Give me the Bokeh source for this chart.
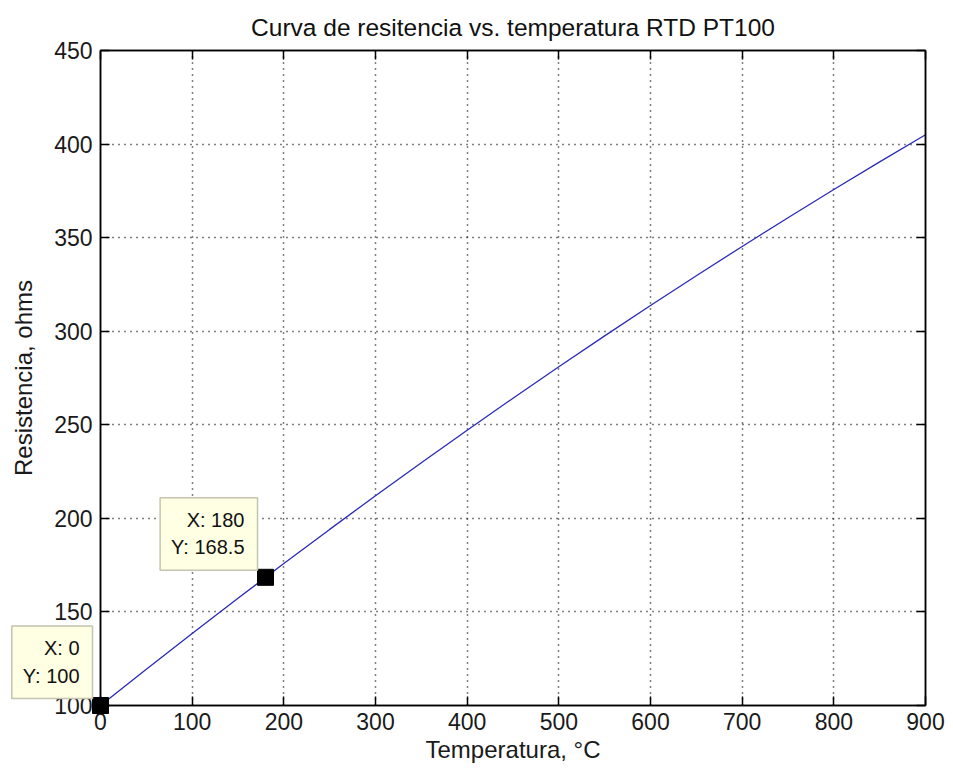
from bokeh.plotting import figure
from bokeh.models import Range1d, LinearAxis, FixedTicker
from bokeh.core.properties import value
from bokeh.embed import file_html
from bokeh.resources import INLINE

# --- data ---
temp_c = [0, 50, 100, 150, 200, 250, 300, 350, 400, 450,
          500, 550, 600, 650, 700, 750, 800, 850, 900]
resist_ohm = [100.0, 119.4, 138.5, 157.3, 175.9, 194.1, 212.1, 229.7, 247.1, 264.2,
              281.0, 297.5, 313.7, 329.6, 345.3, 360.6, 375.7, 390.5, 405.0]
tip_x = [0, 180]
tip_y = [100, 168.5]
tip_text = [f"X: {xv:g}\nY: {yv:g}" for xv, yv in zip(tip_x, tip_y)]
x_ticks = [0, 100, 200, 300, 400, 500, 600, 700, 800, 900]
y_ticks = [100, 150, 200, 250, 300, 350, 400, 450]

FONT = "Liberation Sans"

p = figure(width=945, height=766, output_backend="svg", toolbar_location=None,
           x_range=Range1d(0, 900), y_range=Range1d(100, 450),
           min_border_left=100, min_border_right=20, min_border_top=50, min_border_bottom=61,
           title="Curva de resitencia vs. temperatura RTD PT100")

p.title.align = "center"
p.title.text_font = FONT
p.title.text_font_size = "24.5px"
p.title.text_font_style = "normal"
p.title.text_color = "#111111"
p.title.standoff = 20

bottom_ax = p.below[0]
left_ax = p.left[0]

# extra axes (box with inward ticks on all sides)
top_ax = LinearAxis()
right_ax = LinearAxis()
p.add_layout(top_ax, "above")
p.add_layout(right_ax, "right")

for ax in (bottom_ax, top_ax):
    ax.ticker = FixedTicker(ticks=x_ticks)
for ax in (left_ax, right_ax):
    ax.ticker = FixedTicker(ticks=y_ticks)

for ax in (bottom_ax, top_ax, left_ax, right_ax):
    ax.major_tick_in = 9
    ax.major_tick_out = 0
    ax.minor_tick_in = 0
    ax.minor_tick_out = 0
    ax.axis_line_color = "#000000"
    ax.axis_line_width = 1.5
    ax.major_tick_line_color = "#000000"
    ax.major_tick_line_width = 1.5
    ax.major_label_text_font = FONT
    ax.major_label_text_font_size = "23px"
    ax.major_label_text_color = "#1a1a1a"
    ax.major_label_text_line_height = 1.0
    ax.axis_label_text_font = FONT
    ax.axis_label_text_font_size = "24px"
    ax.axis_label_text_font_style = "normal"
    ax.axis_label_text_color = "#1a1a1a"
    ax.axis_label_text_line_height = 1.0

top_ax.major_label_overrides = {t: "" for t in x_ticks}
right_ax.major_label_overrides = {t: "" for t in y_ticks}
for ax in (top_ax, right_ax):
    ax.major_label_text_font_size = "1px"
    ax.major_label_standoff = 0

bottom_ax.axis_label = "Temperatura, °C"
left_ax.axis_label = "Resistencia, ohms"
bottom_ax.major_label_standoff = 7
bottom_ax.axis_label_standoff = 3
left_ax.major_label_standoff = 8
left_ax.axis_label_standoff = 14

p.xgrid.ticker = FixedTicker(ticks=x_ticks)
p.ygrid.ticker = FixedTicker(ticks=y_ticks)
for g in (p.xgrid, p.ygrid):
    g.grid_line_color = "#000000"
    g.grid_line_dash = "1 5"
    g.grid_line_width = 1.5

p.outline_line_color = "#000000"
p.outline_line_width = 1.5
p.background_fill_color = "#ffffff"
p.border_fill_color = "#ffffff"

p.line(temp_c, resist_ohm, line_color="#2a2ab8", line_width=1.3)

pts = p.scatter(tip_x, tip_y, marker="square", size=16,
                fill_color="#000000", line_color="#000000")
pts.level = "overlay"

tips = p.text(x=tip_x, y=tip_y, text=tip_text,
              x_offset=-8, y_offset=-7, anchor="bottom_right",
              text_align="right", text_baseline="bottom",
              text_font=value(FONT), text_font_size=value("20px"), text_color="#111111",
              text_line_height=1.25,
              background_fill_color="#ffffe3",
              border_line_color="#c4c4b0", border_line_width=1.5,
              padding=dict(left=11, right=13, top=11, bottom=12))
tips.level = "overlay"

open("out.html", "w").write(file_html(p, INLINE))
